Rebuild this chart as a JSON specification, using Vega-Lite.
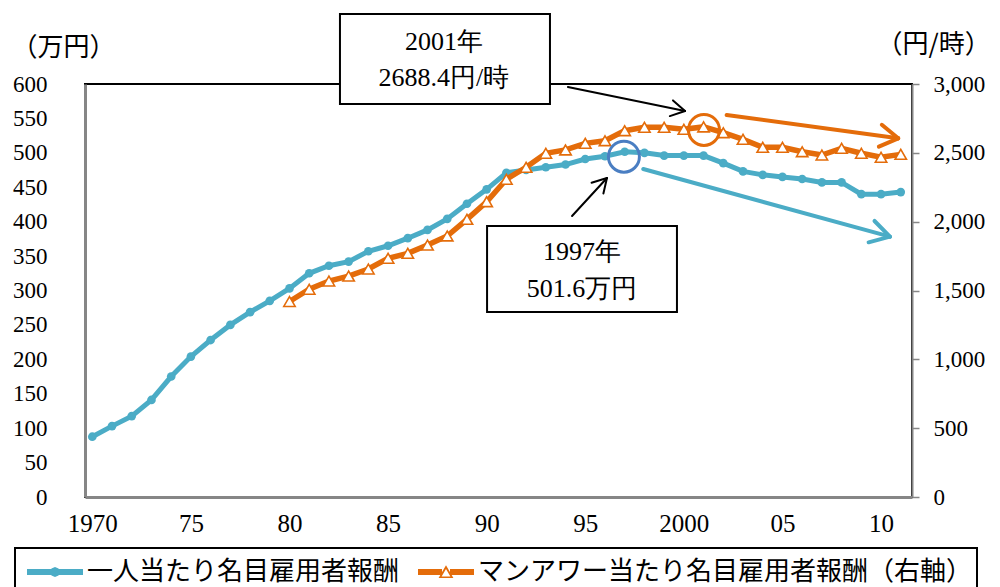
{
  "$schema": "https://vega.github.io/schema/vega-lite/v6.json",
  "width": 827,
  "height": 413,
  "autosize": "none",
  "padding": {"left": 85, "top": 84, "right": 88, "bottom": 90},
  "background": "white",
  "config": {
    "view": {"stroke": "black", "strokeWidth": 2},
    "axis": {"labelFont": "Liberation Serif", "labelColor": "black", "titleFont": "Noto Sans CJK JP", "titleColor": "black", "titleFontWeight": "normal", "grid": false}
  },
  "datasets": {
    "blue": [
      {"year": 1970, "value": 87.6, "series": "一人当たり名目雇用者報酬"},
      {"year": 1971, "value": 103, "series": "一人当たり名目雇用者報酬"},
      {"year": 1972, "value": 117.5, "series": "一人当たり名目雇用者報酬"},
      {"year": 1973, "value": 141, "series": "一人当たり名目雇用者報酬"},
      {"year": 1974, "value": 175, "series": "一人当たり名目雇用者報酬"},
      {"year": 1975, "value": 204, "series": "一人当たり名目雇用者報酬"},
      {"year": 1976, "value": 228, "series": "一人当たり名目雇用者報酬"},
      {"year": 1977, "value": 250, "series": "一人当たり名目雇用者報酬"},
      {"year": 1978, "value": 268.5, "series": "一人当たり名目雇用者報酬"},
      {"year": 1979, "value": 285, "series": "一人当たり名目雇用者報酬"},
      {"year": 1980, "value": 303, "series": "一人当たり名目雇用者報酬"},
      {"year": 1981, "value": 325, "series": "一人当たり名目雇用者報酬"},
      {"year": 1982, "value": 336, "series": "一人当たり名目雇用者報酬"},
      {"year": 1983, "value": 342, "series": "一人当たり名目雇用者報酬"},
      {"year": 1984, "value": 357, "series": "一人当たり名目雇用者報酬"},
      {"year": 1985, "value": 365, "series": "一人当たり名目雇用者報酬"},
      {"year": 1986, "value": 376, "series": "一人当たり名目雇用者報酬"},
      {"year": 1987, "value": 388, "series": "一人当たり名目雇用者報酬"},
      {"year": 1988, "value": 404, "series": "一人当たり名目雇用者報酬"},
      {"year": 1989, "value": 426, "series": "一人当たり名目雇用者報酬"},
      {"year": 1990, "value": 447, "series": "一人当たり名目雇用者報酬"},
      {"year": 1991, "value": 471, "series": "一人当たり名目雇用者報酬"},
      {"year": 1992, "value": 475, "series": "一人当たり名目雇用者報酬"},
      {"year": 1993, "value": 479, "series": "一人当たり名目雇用者報酬"},
      {"year": 1994, "value": 483, "series": "一人当たり名目雇用者報酬"},
      {"year": 1995, "value": 491, "series": "一人当たり名目雇用者報酬"},
      {"year": 1996, "value": 495, "series": "一人当たり名目雇用者報酬"},
      {"year": 1997, "value": 501.6, "series": "一人当たり名目雇用者報酬"},
      {"year": 1998, "value": 500, "series": "一人当たり名目雇用者報酬"},
      {"year": 1999, "value": 496, "series": "一人当たり名目雇用者報酬"},
      {"year": 2000, "value": 496, "series": "一人当たり名目雇用者報酬"},
      {"year": 2001, "value": 496, "series": "一人当たり名目雇用者報酬"},
      {"year": 2002, "value": 485, "series": "一人当たり名目雇用者報酬"},
      {"year": 2003, "value": 473, "series": "一人当たり名目雇用者報酬"},
      {"year": 2004, "value": 468, "series": "一人当たり名目雇用者報酬"},
      {"year": 2005, "value": 465, "series": "一人当たり名目雇用者報酬"},
      {"year": 2006, "value": 462, "series": "一人当たり名目雇用者報酬"},
      {"year": 2007, "value": 457, "series": "一人当たり名目雇用者報酬"},
      {"year": 2008, "value": 457, "series": "一人当たり名目雇用者報酬"},
      {"year": 2009, "value": 440, "series": "一人当たり名目雇用者報酬"},
      {"year": 2010, "value": 440, "series": "一人当たり名目雇用者報酬"},
      {"year": 2011, "value": 443, "series": "一人当たり名目雇用者報酬"}
    ],
    "orange": [
      {"year": 1980, "value": 1420, "series": "マンアワー当たり名目雇用者報酬（右軸）"},
      {"year": 1981, "value": 1509, "series": "マンアワー当たり名目雇用者報酬（右軸）"},
      {"year": 1982, "value": 1569, "series": "マンアワー当たり名目雇用者報酬（右軸）"},
      {"year": 1983, "value": 1605, "series": "マンアワー当たり名目雇用者報酬（右軸）"},
      {"year": 1984, "value": 1656, "series": "マンアワー当たり名目雇用者報酬（右軸）"},
      {"year": 1985, "value": 1734, "series": "マンアワー当たり名目雇用者報酬（右軸）"},
      {"year": 1986, "value": 1770, "series": "マンアワー当たり名目雇用者報酬（右軸）"},
      {"year": 1987, "value": 1830, "series": "マンアワー当たり名目雇用者報酬（右軸）"},
      {"year": 1988, "value": 1896, "series": "マンアワー当たり名目雇用者報酬（右軸）"},
      {"year": 1989, "value": 2017, "series": "マンアワー当たり名目雇用者報酬（右軸）"},
      {"year": 1990, "value": 2145, "series": "マンアワー当たり名目雇用者報酬（右軸）"},
      {"year": 1991, "value": 2308, "series": "マンアワー当たり名目雇用者報酬（右軸）"},
      {"year": 1992, "value": 2395, "series": "マンアワー当たり名目雇用者報酬（右軸）"},
      {"year": 1993, "value": 2497, "series": "マンアワー当たり名目雇用者報酬（右軸）"},
      {"year": 1994, "value": 2521, "series": "マンアワー当たり名目雇用者報酬（右軸）"},
      {"year": 1995, "value": 2569, "series": "マンアワー当たり名目雇用者報酬（右軸）"},
      {"year": 1996, "value": 2588, "series": "マンアワー当たり名目雇用者報酬（右軸）"},
      {"year": 1997, "value": 2661, "series": "マンアワー当たり名目雇用者報酬（右軸）"},
      {"year": 1998, "value": 2685, "series": "マンアワー当たり名目雇用者報酬（右軸）"},
      {"year": 1999, "value": 2685, "series": "マンアワー当たり名目雇用者報酬（右軸）"},
      {"year": 2000, "value": 2671, "series": "マンアワー当たり名目雇用者報酬（右軸）"},
      {"year": 2001, "value": 2688.4, "series": "マンアワー当たり名目雇用者報酬（右軸）"},
      {"year": 2002, "value": 2646, "series": "マンアワー当たり名目雇用者報酬（右軸）"},
      {"year": 2003, "value": 2598, "series": "マンアワー当たり名目雇用者報酬（右軸）"},
      {"year": 2004, "value": 2540, "series": "マンアワー当たり名目雇用者報酬（右軸）"},
      {"year": 2005, "value": 2540, "series": "マンアワー当たり名目雇用者報酬（右軸）"},
      {"year": 2006, "value": 2508, "series": "マンアワー当たり名目雇用者報酬（右軸）"},
      {"year": 2007, "value": 2484, "series": "マンアワー当たり名目雇用者報酬（右軸）"},
      {"year": 2008, "value": 2533, "series": "マンアワー当たり名目雇用者報酬（右軸）"},
      {"year": 2009, "value": 2497, "series": "マンアワー当たり名目雇用者報酬（右軸）"},
      {"year": 2010, "value": 2468, "series": "マンアワー当たり名目雇用者報酬（右軸）"},
      {"year": 2011, "value": 2489, "series": "マンアワー当たり名目雇用者報酬（右軸）"}
    ],
    "boxes": [
      {"year": 1982.56, "year2": 1993.21, "val": 571.0, "val2": 701.7},
      {"year": 1990.02, "year2": 1999.65, "val": 268.8, "val2": 393.7}
    ],
    "boxtext": [
      {"year": 1987.83, "val": 661.0, "label": "2001年"},
      {"year": 1987.83, "val": 608.7, "label": "2688.4円/時"},
      {"year": 1994.83, "val": 356.0, "label": "1997年"},
      {"year": 1994.83, "val": 302.2, "label": "501.6万円"}
    ],
    "blackArrows": [
      {"year": 1994.12, "val": 595.7, "year2": 2000.06, "val2": 560.8},
      {"year": 1999.45, "val": 576.2, "year2": 2000.06, "val2": 560.8},
      {"year": 1999.29, "val": 553.4, "year2": 2000.06, "val2": 560.8},
      {"year": 1994.33, "val": 408.3, "year2": 1996.10, "val2": 463.5},
      {"year": 1995.32, "val": 456.5, "year2": 1996.10, "val2": 463.5},
      {"year": 1995.92, "val": 440.8, "year2": 1996.10, "val2": 463.5}
    ],
    "orangeArrow": [
      {"year": 2002.17, "val": 555.0, "year2": 2010.87, "val2": 521.1},
      {"year": 2010.04, "val": 540.7, "year2": 2010.87, "val2": 521.1},
      {"year": 2009.89, "val": 508.9, "year2": 2010.87, "val2": 521.1}
    ],
    "blueArrow": [
      {"year": 1997.94, "val": 476.5, "year2": 2010.45, "val2": 378.2},
      {"year": 2009.67, "val": 401.0, "year2": 2010.45, "val2": 378.2},
      {"year": 2009.37, "val": 370.0, "year2": 2010.45, "val2": 378.2}
    ],
    "blueCircle": [{"year": 1996.96, "val": 494.4}],
    "orangeCircle": [{"year": 2001.02, "val": 533.2}]
  },
  "encoding": {
    "x": {
      "field": "year",
      "type": "quantitative",
      "scale": {"domain": [1969.63, 2011.57], "nice": false, "zero": false},
      "axis": {
        "orient": "bottom",
        "title": null,
        "values": [1970, 1975, 1980, 1985, 1990, 1995, 2000, 2005, 2010],
        "labelExpr": "datum.value == 1970 || datum.value == 2000 ? '' + datum.value : slice('' + datum.value, 2)",
        "labelFont": "Liberation Serif",
        "labelFontSize": 25,
        "labelFlush": false,
        "labelOverlap": false,
        "ticks": false,
        "tickSize": 0,
        "labelPadding": 14,
        "domainColor": "#868686",
        "domainWidth": 3
      }
    }
  },
  "layer": [
    {
      "encoding": {
        "y": {
          "field": "value",
          "type": "quantitative",
          "scale": {"domain": [0, 600], "nice": false, "zero": false},
          "axis": {
            "orient": "left",
            "values": [0, 50, 100, 150, 200, 250, 300, 350, 400, 450, 500, 550, 600],
            "labelFont": "Liberation Serif",
            "labelFontSize": 23,
            "ticks": false,
            "tickSize": 0,
            "labelPadding": 38,
            "domainColor": "#868686",
            "domainWidth": 3,
            "title": "（万円）",
            "titleAngle": 0,
            "titleAlign": "left",
            "titleBaseline": "middle",
            "titleX": -74,
            "titleY": -37,
            "titleFontSize": 26
          }
        }
      },
      "layer": [
        {
          "data": {"name": "blue"},
          "mark": {"type": "line", "strokeWidth": 5},
          "encoding": {
            "color": {
              "field": "series",
              "type": "nominal",
              "scale": {"domain": ["一人当たり名目雇用者報酬", "マンアワー当たり名目雇用者報酬（右軸）"], "range": ["#4BACC6", "#E46C0A"]},
              "legend": {
                "title": null,
                "orient": "none",
                "legendX": -70,
                "legendY": 464,
                "direction": "horizontal",
                "symbolSize": 1600,
                "symbolOffset": 16,
                "labelOffset": 12,
                "columnPadding": 10,
                "padding": 4,
                "strokeColor": "black",
                "fillColor": "white",
                "labelFont": "Noto Sans CJK JP",
                "labelFontSize": 26,
                "labelColor": "black",
                "labelLimit": 800,
                "encode": {
                  "legend": {"update": {"strokeWidth": {"value": 2}}},
                  "symbols": {
                    "update": {
                      "shape": {"signal": "datum.index === 0 ? 'M-1.4,-0.15H1.4V0.15H-1.4Z M0.25,0L0.177,0.177L0,0.25L-0.177,0.177L-0.25,0L-0.177,-0.177L0,-0.25L0.177,-0.177Z' : 'M-1.4,-0.15H-0.2V0.15H-1.4Z M0.2,-0.15H1.4V0.15H0.2Z M0,-0.34L0.37,0.3L-0.37,0.3Z M0,-0.15L-0.22,0.22L0.22,0.22Z'"},
                      "fill": {"signal": "datum.index === 0 ? '#4BACC6' : '#E46C0A'"},
                      "stroke": {"value": "transparent"},
                      "strokeWidth": {"value": 0},
                      "opacity": {"value": 1}
                    }
                  }
                }
              }
            }
          }
        },
        {
          "data": {"name": "blue"},
          "mark": {"type": "point", "shape": "circle", "filled": true, "color": "#4BACC6", "size": 75, "opacity": 1}
        }
      ]
    },
    {
      "encoding": {
        "y": {
          "field": "value",
          "type": "quantitative",
          "scale": {"domain": [0, 3000], "nice": false, "zero": false},
          "axis": {
            "orient": "right",
            "values": [0, 500, 1000, 1500, 2000, 2500, 3000],
            "format": ",d",
            "labelFont": "Liberation Serif",
            "labelFontSize": 23,
            "tickSize": 7,
            "tickColor": "#868686",
            "tickWidth": 1.5,
            "labelPadding": 14,
            "domainColor": "#868686",
            "domainWidth": 2,
            "title": "（円/時）",
            "titleAngle": 0,
            "titleAlign": "left",
            "titleBaseline": "middle",
            "titleX": -36,
            "titleY": -40,
            "titleFontSize": 26
          }
        }
      },
      "layer": [
        {
          "data": {"name": "orange"},
          "mark": {"type": "line", "strokeWidth": 5.5},
          "encoding": {
            "color": {
              "field": "series",
              "type": "nominal",
              "scale": {"domain": ["一人当たり名目雇用者報酬", "マンアワー当たり名目雇用者報酬（右軸）"], "range": ["#4BACC6", "#E46C0A"]}
            }
          }
        },
        {
          "data": {"name": "orange"},
          "mark": {"type": "point", "shape": "triangle-up", "filled": true, "fill": "white", "stroke": "#E46C0A", "strokeWidth": 1.6, "size": 130, "opacity": 1}
        }
      ]
    },
    {
      "encoding": {
        "y": {
          "field": "val",
          "type": "quantitative",
          "scale": {"domain": [0, 600], "nice": false, "zero": false},
          "axis": null
        }
      },
      "layer": [
        {
          "data": {"name": "blueArrow"},
          "mark": {"type": "rule", "color": "#4BACC6", "strokeWidth": 4, "strokeCap": "round"},
          "encoding": {"x2": {"field": "year2"}, "y2": {"field": "val2"}}
        },
        {
          "data": {"name": "orangeArrow"},
          "mark": {"type": "rule", "color": "#E46C0A", "strokeWidth": 4, "strokeCap": "round"},
          "encoding": {"x2": {"field": "year2"}, "y2": {"field": "val2"}}
        },
        {
          "data": {"name": "blackArrows"},
          "mark": {"type": "rule", "color": "black", "strokeWidth": 2, "strokeCap": "round"},
          "encoding": {"x2": {"field": "year2"}, "y2": {"field": "val2"}}
        },
        {
          "data": {"name": "blueCircle"},
          "mark": {"type": "point", "shape": "circle", "filled": false, "stroke": "#4A7EC2", "strokeWidth": 3, "size": 960, "opacity": 1}
        },
        {
          "data": {"name": "orangeCircle"},
          "mark": {"type": "point", "shape": "circle", "filled": false, "stroke": "#E46C0A", "strokeWidth": 3, "size": 960, "opacity": 1}
        },
        {
          "data": {"name": "boxes"},
          "mark": {"type": "rect", "fill": "white", "stroke": "black", "strokeWidth": 2},
          "encoding": {"x2": {"field": "year2"}, "y2": {"field": "val2"}}
        },
        {
          "data": {"name": "boxtext"},
          "mark": {"type": "text", "font": "Liberation Serif", "fontSize": 26, "color": "black", "align": "center", "baseline": "middle"},
          "encoding": {"text": {"field": "label", "type": "nominal"}}
        }
      ]
    }
  ],
  "resolve": {"scale": {"y": "independent"}}
}
